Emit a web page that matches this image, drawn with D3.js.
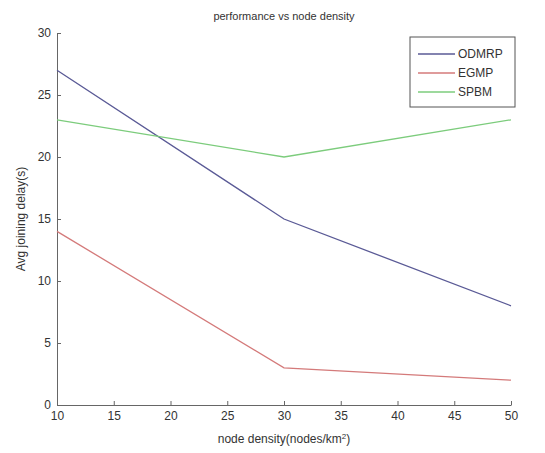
<!DOCTYPE html>
<html>
<head>
<meta charset="utf-8">
<script src="https://cdn.jsdelivr.net/npm/d3@7"></script>
<style>
  body { margin: 0; background: #fff; }
  text { font-family: "Liberation Sans", Arial, sans-serif; fill: #333; }
</style>
</head>
<body>
<div id="chart"></div>
<script>
const xValues = [10, 30, 50]
const seriesNames = ["ODMRP", "EGMP", "SPBM"]
const odmrp = [27, 15, 8]
const egmp = [14, 3, 2]
const spbm = [23, 20, 23]
const xTicks = [10, 15, 20, 25, 30, 35, 40, 45, 50]
const yTicks = [0, 5, 10, 15, 20, 25, 30]
const colors = ["#5a5a96", "#d47a7a", "#7ccc7c"]

const series = [odmrp, egmp, spbm].map((vals, i) => ({
  name: seriesNames[i],
  color: colors[i],
  points: vals.map((v, j) => ({ x: xValues[j], y: v })),
}))

// DIMENSIONS
const dimensions = {
  width: 545,
  height: 453,
  margin: { top: 33, right: 34, bottom: 48, left: 57 },
}
dimensions.boundedWidth = dimensions.width - dimensions.margin.left - dimensions.margin.right
dimensions.boundedHeight = dimensions.height - dimensions.margin.top - dimensions.margin.bottom

const wrapper = d3.select("#chart")
  .append("svg")
  .attr("width", dimensions.width)
  .attr("height", dimensions.height)

const bounds = wrapper.append("g")
  .attr("transform", `translate(${dimensions.margin.left},${dimensions.margin.top})`)

const xScale = d3.scaleLinear()
  .domain([10, 50])
  .range([0, dimensions.boundedWidth])

const yScale = d3.scaleLinear()
  .domain([0, 30])
  .range([dimensions.boundedHeight, 0])

// axes, ticks pointing inward like matlab
const xAxis = bounds.append("g")
  .attr("transform", `translate(0,${dimensions.boundedHeight})`)
  .call(d3.axisBottom(xScale).tickValues(xTicks).tickSizeInner(-4).tickSizeOuter(0).tickPadding(6))
const yAxis = bounds.append("g")
  .call(d3.axisLeft(yScale).tickValues(yTicks).tickSizeInner(-4).tickSizeOuter(0).tickPadding(6))

;[xAxis, yAxis].forEach(ax => {
  ax.select(".domain").attr("stroke", "#666")
  ax.selectAll(".tick line").attr("stroke", "#666")
  ax.selectAll(".tick text").style("font-size", "12px").attr("fill", "#333")
})

// lines
const line = d3.line()
  .x(d => xScale(d.x))
  .y(d => yScale(d.y))

bounds.selectAll(".series").data(series).enter()
  .append("path")
  .attr("class", "series")
  .attr("fill", "none")
  .attr("stroke", d => d.color)
  .attr("stroke-width", 1.3)
  .attr("d", d => line(d.points))

// title and labels
wrapper.append("text")
  .attr("x", dimensions.margin.left + dimensions.boundedWidth / 2)
  .attr("y", 20)
  .attr("text-anchor", "middle")
  .style("font-size", "11px")
  .text("performance vs node density")

const xLabel = wrapper.append("text")
  .attr("x", dimensions.margin.left + dimensions.boundedWidth / 2)
  .attr("y", 443)
  .attr("text-anchor", "middle")
  .style("font-size", "12px")
xLabel.append("tspan").text("node density(nodes/km")
xLabel.append("tspan").attr("baseline-shift", "super").style("font-size", "8px").text("2")
xLabel.append("tspan").text(")")

wrapper.append("text")
  .attr("transform", `translate(25,${dimensions.margin.top + dimensions.boundedHeight / 2}) rotate(-90)`)
  .attr("text-anchor", "middle")
  .style("font-size", "12px")
  .text("Avg joining delay(s)")

// legend
const legend = wrapper.append("g")
  .attr("transform", "translate(410,37)")
legend.append("rect")
  .attr("width", 105)
  .attr("height", 70)
  .attr("fill", "#fff")
  .attr("stroke", "#555")
const legendItems = legend.selectAll(".item").data(series).enter()
  .append("g")
  .attr("transform", (d, i) => `translate(0,${17 + i * 19})`)
legendItems.append("line")
  .attr("x1", 8).attr("x2", 45)
  .attr("stroke", d => d.color)
  .attr("stroke-width", 1.3)
legendItems.append("text")
  .attr("x", 48)
  .attr("dy", "0.35em")
  .style("font-size", "12px")
  .text(d => d.name)
</script>
</body>
</html>
